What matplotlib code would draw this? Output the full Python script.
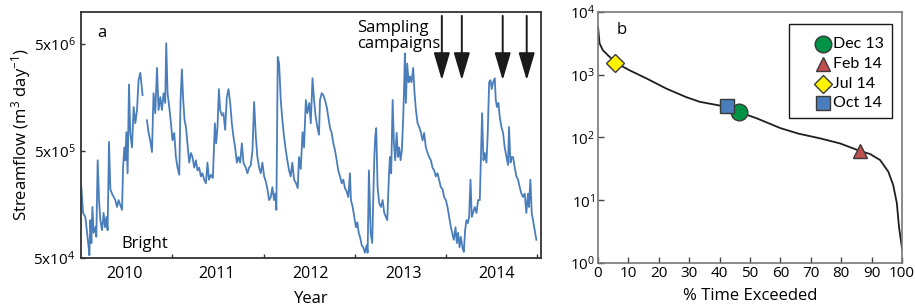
"""
streamflow time series (a) and flow duration curve (b)
"""
##import module
import matplotlib
matplotlib.use('Agg')
import matplotlib.pyplot as plt
from matplotlib.patches import Rectangle
from matplotlib.ticker import FixedLocator, NullFormatter, FixedFormatter
import numpy as np

plt.rcParams['font.family'] = ['Open Sans', 'DejaVu Sans']
plt.rcParams['mathtext.fontset'] = 'custom'
plt.rcParams['mathtext.rm'] = 'Open Sans'
plt.rcParams['mathtext.it'] = 'Open Sans:italic'
plt.rcParams['axes.unicode_minus'] = False

##---- panel a : daily streamflow at Bright (m3/day) ----
year = [2010.004, 2010.023, 2010.048, 2010.067, 2010.084, 2010.092, 2010.103, 2010.114, 2010.125, 2010.139,
        2010.158, 2010.168, 2010.183, 2010.198, 2010.212, 2010.231, 2010.248, 2010.264, 2010.278, 2010.292,
        2010.307, 2010.322, 2010.340, 2010.376, 2010.395, 2010.412, 2010.431, 2010.450, 2010.461, 2010.475,
        2010.486, 2010.497, 2010.511, 2010.526, 2010.540, 2010.559, 2010.577, 2010.595, 2010.614, 2010.631,
        2010.650, 2010.661, 2010.675, 2010.690, 2010.723, 2010.741, 2010.759, 2010.778, 2010.795, 2010.814,
        2010.833, 2010.850, 2010.869, 2010.887, 2010.905, 2010.923, 2010.934, 2010.949, 2010.967, 2010.986,
        2011.003, 2011.022, 2011.040, 2011.058, 2011.077, 2011.091, 2011.106, 2011.120, 2011.135, 2011.150,
        2011.167, 2011.186, 2011.205, 2011.222, 2011.241, 2011.259, 2011.277, 2011.295, 2011.314, 2011.331,
        2011.350, 2011.369, 2011.386, 2011.402, 2011.423, 2011.445, 2011.467, 2011.481, 2011.496, 2011.511,
        2011.525, 2011.544, 2011.552, 2011.561, 2011.580, 2011.598, 2011.616, 2011.635, 2011.653, 2011.671,
        2011.689, 2011.708, 2011.725, 2011.744, 2011.763, 2011.780, 2011.806, 2011.824, 2011.842, 2011.861,
        2011.879, 2011.897, 2011.916, 2011.933, 2011.952, 2011.970, 2011.988, 2012.007, 2012.025, 2012.043,
        2012.061, 2012.080, 2012.097, 2012.116, 2012.130, 2012.141, 2012.156, 2012.171, 2012.189, 2012.207,
        2012.225, 2012.244, 2012.261, 2012.280, 2012.298, 2012.316, 2012.335, 2012.357, 2012.375, 2012.389,
        2012.408, 2012.428, 2012.444, 2012.464, 2012.480, 2012.501, 2012.518, 2012.537, 2012.554, 2012.572,
        2012.590, 2012.608, 2012.619, 2012.638, 2012.655, 2012.674, 2012.693, 2012.710, 2012.729, 2012.747,
        2012.765, 2012.783, 2012.802, 2012.819, 2012.838, 2012.857, 2012.874, 2012.893, 2012.911, 2012.929,
        2012.947, 2012.958, 2012.977, 2012.995, 2013.013, 2013.028, 2013.043, 2013.057, 2013.076, 2013.093,
        2013.112, 2013.131, 2013.141, 2013.155, 2013.174, 2013.191, 2013.213, 2013.224, 2013.235, 2013.250,
        2013.268, 2013.287, 2013.305, 2013.323, 2013.341, 2013.356, 2013.374, 2013.385, 2013.399, 2013.415,
        2013.429, 2013.443, 2013.459, 2013.473, 2013.487, 2013.502, 2013.516, 2013.531, 2013.542, 2013.549,
        2013.560, 2013.574, 2013.590, 2013.604, 2013.622, 2013.640, 2013.655, 2013.670, 2013.688, 2013.706,
        2013.724, 2013.743, 2013.760, 2013.779, 2013.798, 2013.815, 2013.834, 2013.852, 2013.870, 2013.888,
        2013.907, 2013.924, 2013.943, 2013.962, 2013.979, 2013.998, 2014.016, 2014.034, 2014.053, 2014.067,
        2014.085, 2014.104, 2014.118, 2014.132, 2014.148, 2014.162, 2014.181, 2014.195, 2014.209, 2014.224,
        2014.239, 2014.253, 2014.268, 2014.282, 2014.296, 2014.315, 2014.334, 2014.351, 2014.370, 2014.384,
        2014.395, 2014.410, 2014.424, 2014.443, 2014.457, 2014.472, 2014.487, 2014.501, 2014.515, 2014.534,
        2014.545, 2014.559, 2014.574, 2014.589, 2014.607, 2014.625, 2014.643, 2014.662, 2014.679, 2014.690,
        2014.706, 2014.720, 2014.734, 2014.753, 2014.771, 2014.789, 2014.807, 2014.826, 2014.843, 2014.862,
        2014.880, 2014.898, 2014.909, 2014.924, 2014.939, 2014.953, 2014.972, 2014.990]
flow = [2.3e5, 1.32e5, 1.21e5, 8.6e4, 6.3e4, 5.3e4, 1.13e5, 6.9e4, 1.5e5, 8.6e4,
        9.7e4, 7.9e4, 4.1e5, 1.74e5, 1.13e5, 9.1e4, 1.32e5, 9.7e4, 1.21e5, 9.1e4,
        6.1e5, 2.2e5, 2.0e5, 1.74e5, 1.5e5, 1.74e5, 1.56e5, 1.41e5, 3.5e5, 5.4e5,
        4.1e5, 7.5e5, 3.1e5, 2.1e6, 7.4e5, 5.4e5, 1.29e6, 9.1e5, 1.21e6, 2.3e6,
        2.7e6, 2.2e6, 1.67e6, np.nan, 9.7e5, 7.4e5, 6.3e5, 4.9e5, 1.74e6, 1.13e6,
        3.0e6, 1.21e6, 1.6e6, 1.21e6, 1.74e6, 1.41e6, 5.1e6, 1.74e6, 1.29e6, 9.1e5,
        6.3e5, 7.4e5, 4.4e5, 3.5e5, 3.0e5, 1.5e6, 2.9e6, 1.5e6, 9.7e5, 8.4e5,
        5.9e5, 3.9e5, 4.8e5, 4.4e5, 3.5e5, 4.1e5, 3.3e5, 3.5e5, 2.9e5, 3.1e5,
        2.7e5, 2.5e5, 3.9e5, 2.7e5, 3.0e5, 2.8e5, 9.1e5, 5.9e5, 8.4e5, 1.9e6,
        1.21e6, 1.08e6, np.nan, 1.13e6, 7.9e5, 1.6e6, 1.9e6, 1.41e6, 9.1e5, 6.8e5,
        5.4e5, 3.9e5, 4.4e5, 3.9e5, 5.9e5, 3.9e5, 3.5e5, 3.1e5, 3.5e5, 3.7e5,
        5.1e5, 1.44e6, 6.8e5, 4.4e5, 3.5e5, 3.1e5, 3.9e5, 2.9e5, 2.6e5, 2.2e5,
        1.74e5, 1.86e5, 2.3e5, 1.74e5, 2.0e5, 1.41e5, 3.8e6, 3.3e6, 1.5e6, 9.7e5,
        6.8e5, 5.1e5, 4.1e5, 3.3e5, 2.9e5, 3.9e5, 2.7e5, 2.5e5, 2.25e5, 4.4e5,
        3.4e5, 7.5e5, 5.4e5, 1.5e6, 1.13e6, 1.41e6, 9.1e5, 2.4e6, 1.5e6, 1.04e6,
        8.4e5, 7.1e5, 1.5e6, 1.74e6, 1.67e6, 1.5e6, 1.29e6, 1.04e6, 8.2e5, 7.4e5,
        5.9e5, 5.1e5, 4.1e5, 3.3e5, 2.9e5, 2.5e5, 2.7e5, 2.25e5, 2.1e5, 1.86e5,
        3.1e5, 1.74e5, 1.5e5, 1.21e5, 9.7e4, 1.08e5, 8.6e4, 7.9e4, 6.6e4, 6.3e4,
        5.6e4, 6.6e4, 5.6e4, 3.3e5, 8.6e4, 6.9e4, 4.1e5, 6.8e5, 8.2e5, 2.3e5,
        1.63e5, 1.5e5, 1.74e5, 1.32e5, 1.21e5, 1.13e5, 2.9e5, 4.4e5, 3.1e5, 1.5e6,
        5.9e5, 4.1e5, 7.4e5, 4.4e5, 5.4e5, 4.1e5, 5.1e5, 1.04e6, 2.2e6, 4.1e6,
        1.41e6, 3.3e6, 2.2e6, 2.5e6, 2.2e6, 3.0e6, 1.74e6, 1.21e6, 9.1e5, 8.4e5,
        7.5e5, 6.3e5, 7.4e5, 5.4e5, 4.8e5, 4.4e5, 4.1e5, 3.5e5, 3.3e5, 2.9e5,
        3.1e5, 2.7e5, 2.3e5, 2.2e5, 1.86e5, 1.74e5, 1.5e5, 1.21e5, 9.7e4, 8.6e4,
        7.4e4, 9.7e4, 6.9e4, 8.6e4, 6.3e4, 7.9e4, 6.2e4, 5.7e4, 9.1e4, 1.13e5,
        1.06e5, 1.21e5, 2.7e5, 1.21e5, 1.32e5, 1.5e5, 1.32e5, 1.74e5, 1.74e5, 5.1e5,
        1.13e6, 4.1e5, 4.8e5, 3.9e5, 7.4e5, 2.2e6, 2.3e6, 1.9e6, 2.2e6, 2.4e6,
        1.5e6, 1.29e6, 1.41e6, 1.04e6, 8.4e5, 7.4e5, 5.4e5, 4.4e5, 3.7e5, 8.4e5,
        3.9e5, 4.4e5, 4.4e5, 3.5e5, 2.9e5, 2.7e5, 2.3e5, 2.0e5, 1.86e5, 2.0e5,
        1.32e5, 2.0e5, 1.5e5, 2.7e5, 1.32e5, 1.13e5, 9.1e4, 7.4e4]

## sampling campaign dates (decimal year)
campaign_year = [2013.954, 2014.173, 2014.621, 2014.884]

year_ticks = [2011, 2012, 2013, 2014, 2015]
year_label_pos = [2010.473, 2011.487, 2012.515, 2013.536, 2014.556]
year_labels = ['2010', '2011', '2012', '2013', '2014']
flow_ticks = [5e4, 5e5, 5e6]
flow_labels = [r'5x10$^{4}$', r'5x10$^{5}$', r'5x10$^{6}$']

##---- panel b : flow duration curve ----
pct_exceed = [0, 0.5, 1.6, 5.8, 10.4, 16, 22.5, 29, 33.5, 42, 46, 52, 60, 66, 73,
              79.6, 86.2, 89.5, 92.8, 95.5, 97.1, 98.3, 99.0, 100]
fdc_flow = [5750, 3160, 2450, 1550, 1175, 870, 600, 440, 370, 310, 257, 204, 141, 115, 97,
            80.5, 61, 54.5, 43.7, 28.5, 17.5, 9.0, 3.8, 1.7]

campaign_names = ['Dec 13', 'Feb 14', 'Jul 14', 'Oct 14']
campaign_pct = [46.3, 86.2, 5.5, 42.3]
campaign_flow = [255, 62, 1530, 315]
campaign_color = ['#009245', '#c0504d', '#fff200', '#4a7ebb']
campaign_marker = ['o', '^', 'D', 's']
campaign_size = [12, 10.5, 9, 10]


def panel_a(ax):
    ax.plot(year, flow, color='#4a7ebb', lw=1.3)
    ax.set_yscale('log')
    ax.set_ylim(5e4, 1e7)
    ax.set_xlim(2010.0, 2015.04)

    ax.yaxis.set_major_locator(FixedLocator(flow_ticks))
    ax.yaxis.set_major_formatter(FixedFormatter(flow_labels))
    ax.yaxis.set_minor_locator(FixedLocator([]))
    ##year boundaries get the tick, labels sit in the middle of the year
    ax.xaxis.set_major_locator(FixedLocator(year_ticks))
    ax.xaxis.set_major_formatter(NullFormatter())
    ax.xaxis.set_minor_locator(FixedLocator(year_label_pos))
    ax.xaxis.set_minor_formatter(FixedFormatter(year_labels))
    ax.tick_params(axis='both', which='major', direction='in', length=3, width=1,
                   labelsize=11, color='#333333')
    ax.tick_params(axis='x', which='minor', length=0, labelsize=11.5, pad=6)
    ax.tick_params(axis='y', which='major', pad=4)

    ax.set_ylabel(r'Streamflow (m$^{3}$ day$^{-1}$)', fontsize=12, labelpad=0)
    ax.set_xlabel('Year', fontsize=12, labelpad=6)

    for s in ax.spines.values():
        s.set_linewidth(1.3)
        s.set_color('#333333')

    ax.text(0.035, 0.915, 'a', transform=ax.transAxes, fontsize=12, va='center', ha='left')
    ax.text(0.087, 0.057, 'Bright', transform=ax.transAxes, fontsize=12, va='center', ha='left')
    ax.text(2013.024, 8.4e6, 'Sampling\ncampaigns', fontsize=12, ha='left', va='top',
            multialignment='left', linespacing=1.0)

    for cy in campaign_year:
        ax.annotate('', xy=(cy, 2.3e6), xytext=(cy, 9.2e6),
                    arrowprops=dict(arrowstyle='-|>,head_length=1.7,head_width=0.5',
                                    color='#1a1a1a', lw=1.4, mutation_scale=10,
                                    shrinkA=0, shrinkB=0))


def panel_b(ax):
    ax.plot(pct_exceed, fdc_flow, color='#1e1e1e', lw=1.3, zorder=2)
    for p, q, c, m, ms in zip(campaign_pct, campaign_flow, campaign_color,
                              campaign_marker, campaign_size):
        ax.plot(p, q, marker=m, ms=ms, mfc=c, mec='#3a3a3a', mew=1, ls='none', zorder=3)

    ax.set_yscale('log')
    ax.set_ylim(1, 1e4)
    ax.set_xlim(0, 100)
    ax.set_xticks(np.arange(0, 101, 10))
    ax.yaxis.set_minor_locator(FixedLocator([]))
    ax.tick_params(axis='both', which='major', direction='in', length=4, width=1,
                   labelsize=11, color='#444444', pad=2)
    ax.set_xlabel('% Time Exceeded', fontsize=12, labelpad=5)

    for s in ax.spines.values():
        s.set_linewidth(1.2)
        s.set_color('#777777')

    ax.text(0.06, 0.93, 'b', transform=ax.transAxes, fontsize=12, va='center', ha='left')

    ##legend box drawn by hand so it matches the original layout
    ax.add_patch(Rectangle((0.628, 0.578), 0.339, 0.374, transform=ax.transAxes,
                           facecolor='white', edgecolor='#1a1a1a', lw=1.0, zorder=4))
    rows = [0.872, 0.793, 0.713, 0.637]
    for name, ry, c, m, ms in zip(campaign_names, rows, campaign_color,
                                  campaign_marker, campaign_size):
        ax.plot(0.740, ry, marker=m, ms=ms, mfc=c, mec='#3a3a3a', mew=1, ls='none',
                transform=ax.transAxes, zorder=5, clip_on=False)
        ax.text(0.772, ry, name, transform=ax.transAxes, fontsize=11.5, family='Lato',
                va='center', ha='left', zorder=5)


def main():
    fig = plt.figure(figsize=(9.15, 3.05), dpi=100)
    ax_a = fig.add_axes([0.0885, 0.1541, 0.5027, 0.8066])
    ax_b = fig.add_axes([0.6536, 0.1377, 0.3322, 0.8230])
    panel_a(ax_a)
    panel_b(ax_b)
    fig.savefig('out.png', dpi=100)
    plt.close('all')


main()
